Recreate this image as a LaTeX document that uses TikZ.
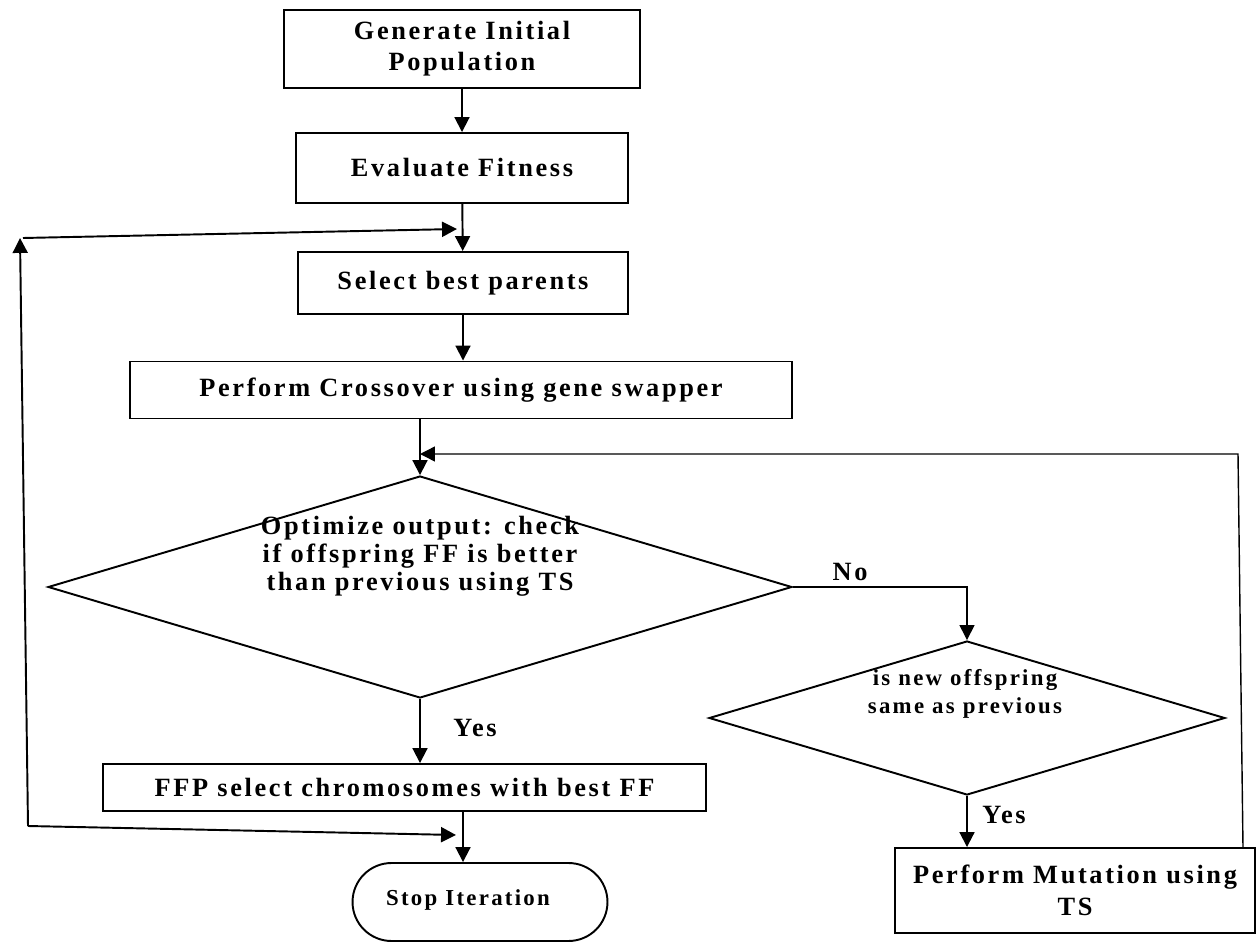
\documentclass[tikz,border=0pt]{standalone}
\usepackage{fontspec}
\setmainfont{Liberation Serif}[LetterSpace=10]
\usetikzlibrary{shapes.geometric,arrows.meta}

\tikzset{
	px/.style={x=0.02cm, y=-0.02cm},
	kasten/.style={draw, line width=1.1pt, inner sep=0pt, align=center,
		font=\fontsize{15}{17.6}\selectfont\bfseries},
	raute/.style={draw, diamond, line width=1.1pt, inner sep=0pt},
	pfeil/.style={line width=1.1pt, -{Triangle[length=8.5pt,width=8.5pt]}},
	duenn/.style={line width=0.8pt},
	beschriftung/.style={inner sep=0pt, align=center,
		font=\fontsize{15}{16}\selectfont\bfseries},
	klein/.style={font=\fontsize{13}{16}\selectfont\bfseries}
}

\begin{document}
\begin{tikzpicture}[px]
	\useasboundingbox (0,0) rectangle (1257,942);
	% Kaesten
	\node[kasten, minimum width=7.12cm, minimum height=1.56cm] (gen) at (462,49)
		{Generate Initial\\Population};
	\node[kasten, minimum width=6.64cm, minimum height=1.4cm] (eval) at (462,168)
		{Evaluate Fitness};
	\node[kasten, minimum width=6.6cm, minimum height=1.24cm] (sel) at (463,283)
		{Select best parents};
	\node[kasten, minimum width=13.26cm, minimum height=1.14cm] (cross) at (461,390)
		{Perform Crossover using gene swapper};
	\node[kasten, minimum width=12.06cm, minimum height=0.94cm] (ffp) at (404.5,787.5)
		{FFP select chromosomes with best FF};
	\node[kasten, rounded corners=0.78cm, minimum width=5.1cm,
		minimum height=1.56cm] (stop) at (480,902) {};
	\node[beschriftung, klein] (stopText) at (468,900) {Stop Iteration};
	\node[kasten, font=\fontsize{15}{18}\selectfont\bfseries, minimum width=7.2cm,
		minimum height=1.7cm] (mut) at (1075,890.5) {Perform Mutation using\\TS};

	% Rauten
	\node[raute, minimum width=14.88cm, minimum height=4.44cm] (opt) at (420,587) {};
	\node[beschriftung] (optText) at (420,556)
		{Optimize output: check\\if offspring FF is better\\than previous using TS};
	\node[raute, minimum width=10.32cm, minimum height=3.08cm] (same) at (967,718) {};
	\node[beschriftung, klein] (sameText) at (965,694)
		{is new offspring\\same as previous};

	% Beschriftungen
	\node[beschriftung] (no) at (850,572) {No};
	\node[beschriftung] (yesA) at (475,728) {Yes};
	\node[beschriftung] (yesB) at (1004,815) {Yes};

	% Verbindungen
	\draw[pfeil] (gen) -- (eval);
	\draw[pfeil] (eval) -- (sel);
	\draw[pfeil] (sel.south) -- (sel.south |- cross.north);
	\draw[pfeil] (cross.south -| opt.north) -- (opt.north);
	\draw[pfeil] (opt.south) -- (opt.south |- ffp.north);
	\draw[pfeil] (ffp.south -| sel.south) -- (stop.north -| sel.south);
	\draw[pfeil, duenn] (opt.east) -| (same.north);
	\draw[pfeil] (same.south) -- (same.south |- mut.north);

	% Rueckfuehrung links
	\coordinate (lu) at (28,826);
	\coordinate (lo) at (20,238);
	\coordinate (loR) at (23,238);
	\coordinate (eu) at (456,835);
	\coordinate (eo) at (457,229);
	\draw[pfeil] (lu) -- (eu);
	\draw[pfeil] (lu) -- (lo);
	\draw[pfeil] (loR) -- (eo);

	% Rueckfuehrung rechts
	\coordinate (ru) at (1243,848);
	\coordinate (ro) at (1238,454);
	\draw[pfeil, duenn] (ru) -- (ro) -- (ro -| opt.north);
\end{tikzpicture}
\end{document}
